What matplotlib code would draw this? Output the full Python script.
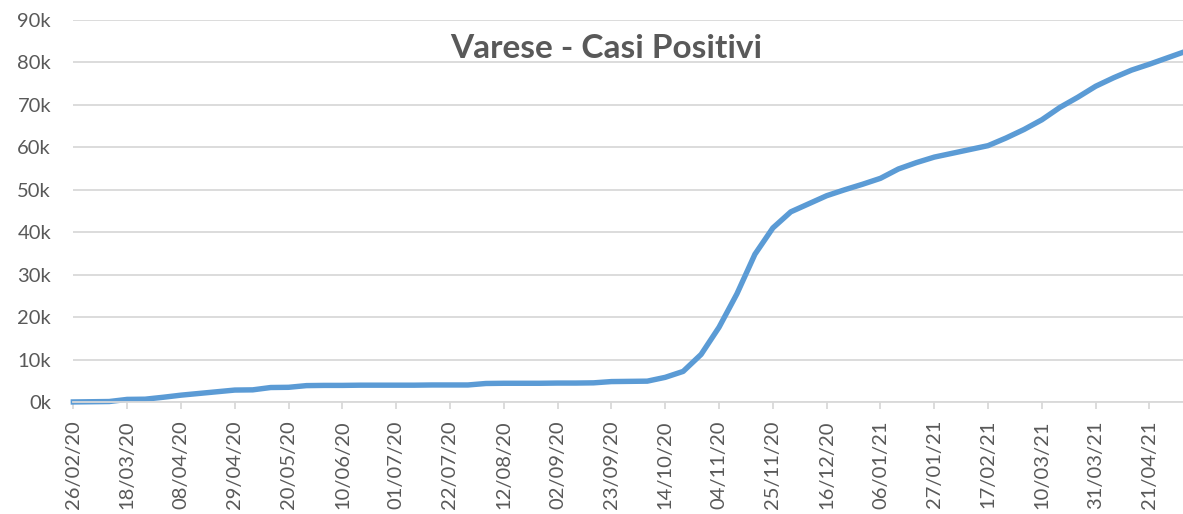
import matplotlib
matplotlib.use("Agg")
import matplotlib.pyplot as plt
import matplotlib.dates as mdates
import pandas as pd

# weekly cumulative positive cases, province of Varese (thousands)
start_date = "2020-02-26"
casi_k = [
    0.0, 0.05, 0.1, 0.6, 0.65, 1.1, 1.6, 2.0, 2.4, 2.8,
    2.85, 3.4, 3.45, 3.85, 3.9, 3.9, 3.95, 3.95, 3.95, 3.95,
    4.0, 4.0, 4.0, 4.35, 4.4, 4.4, 4.4, 4.45, 4.45, 4.5,
    4.8, 4.85, 4.9, 5.8, 7.2, 11.2, 17.6, 25.5, 34.8, 41.0,
    44.8, 46.7, 48.6, 50.0, 51.3, 52.7, 54.9, 56.4, 57.7, 58.6,
    59.5, 60.4, 62.2, 64.2, 66.5, 69.4, 71.8, 74.4, 76.4, 78.2,
    79.6, 81.1, 82.6,
]
titolo = "Varese - Casi Positivi"
y_ticks = list(range(0, 90001, 10000))

date = pd.date_range(start_date, periods=len(casi_k), freq="7D")
casi = [v * 1000 for v in casi_k]
tick_date = pd.date_range(start_date, date[-1], freq="21D")

grigio = "#595959"
griglia = "#d9d9d9"
plt.rcParams["font.family"] = ["Lato", "DejaVu Sans"]

fig = plt.figure(figsize=(11.83, 5.14), dpi=100)
ax = fig.add_axes([0.062, 0.218, 0.940, 0.743])

ax.plot(date, casi, color="#5b9bd5", lw=3.9, solid_joinstyle="round", clip_on=False)

ax.set_xlim(date[0], date[-1])
ax.set_ylim(0, 90000)
ax.set_yticks(y_ticks)
ax.set_yticklabels([f"{v // 1000}k" for v in y_ticks])
ax.set_xticks(tick_date)
ax.xaxis.set_major_formatter(mdates.DateFormatter("%d/%m/%y"))

ax.grid(axis="y", color=griglia, lw=1.3)
ax.set_axisbelow(True)
for s in ["top", "right", "left"]:
    ax.spines[s].set_visible(False)
ax.spines["bottom"].set_color(griglia)
ax.spines["bottom"].set_linewidth(1.3)

ax.tick_params(axis="y", length=0, pad=16, labelsize=14.5, labelcolor=grigio)
ax.tick_params(axis="x", length=5, width=1.3, color=griglia, pad=8,
               labelsize=14.5, labelcolor=grigio, labelrotation=90)

fig.text(0.512, 0.905, titolo, ha="center", va="center", fontsize=24,
         fontweight="bold", color=grigio)

fig.savefig("out.png", dpi=100)
